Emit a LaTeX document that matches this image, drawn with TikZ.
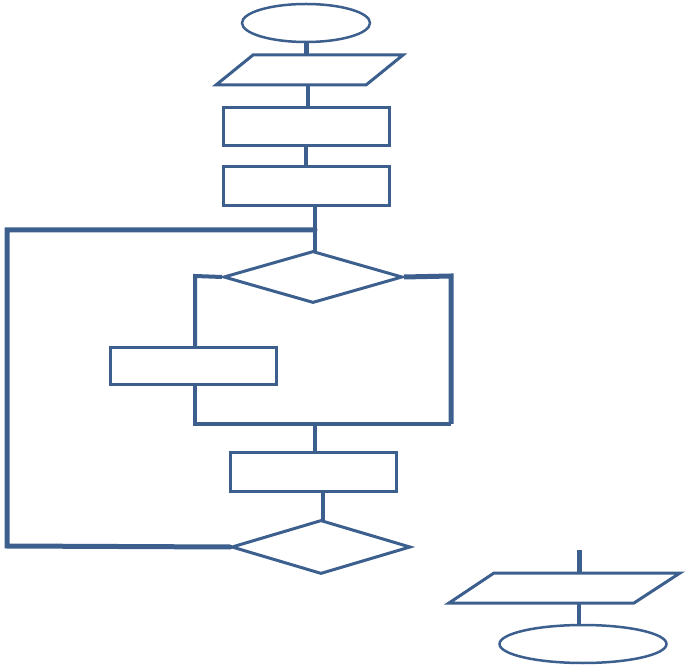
\documentclass[tikz,border=0pt]{standalone}
\usetikzlibrary{shapes.geometric}
\definecolor{fc}{RGB}{60,95,142}
\begin{document}
\begin{tikzpicture}[x=1pt,y=-1pt,
  box/.style={draw=fc,line width=3pt,rectangle,inner sep=0pt,minimum width=166pt},
  oval/.style={draw=fc,line width=2.5pt,ellipse,inner sep=0pt},
  dia/.style={draw=fc,line width=3pt,diamond,inner sep=0pt,minimum width=179pt},
  para/.style={draw=fc,line width=3pt,line join=miter},
  conn/.style={draw=fc,line width=4pt},
  loopline/.style={draw=fc,line width=5pt,line cap=round}]
\useasboundingbox (0,0) rectangle (686,668);
% shapes
\node[oval,minimum width=128pt,minimum height=38pt] (e1) at (306,23) {};
\coordinate (p1a) at (253,55); \coordinate (p1b) at (403,55);
\coordinate (p1c) at (366,85); \coordinate (p1d) at (216,85);
\draw[para] (p1a) -- (p1b) -- (p1c) -- (p1d) -- cycle;
\coordinate (p1t) at (306,55); \coordinate (p1s) at (308,85);
\node[box,minimum height=38pt] (r1) at (306,127) {};
\node[box,minimum height=39pt] (r2) at (306,186.5) {};
\node[dia,minimum height=52pt] (d1) at (313,277) {};
\node[box,minimum height=37pt] (r3) at (193,366.5) {};
\node[box,minimum height=38pt] (r4) at (313,472) {};
\node[dia,minimum height=54pt] (d2) at (321,547) {};
\coordinate (p2a) at (494,573); \coordinate (p2b) at (680,573);
\coordinate (p2c) at (634,603); \coordinate (p2d) at (449,603);
\draw[para] (p2a) -- (p2b) -- (p2c) -- (p2d) -- cycle;
\coordinate (p2t) at (579,573); \coordinate (p2s) at (579,603);
\coordinate (in2) at (579,550);
\node[oval,minimum width=167pt,minimum height=38pt] (e2) at (583,644) {};
% connectors
\draw[conn,line width=5pt] (e1.south) -- (p1t);
\draw[conn] (p1s) -- (p1s |- r1.north);
\draw[conn] (r1.south) -- (r2.north);
\coordinate (j1) at (315,230);
\draw[conn] (315,206) -- (315,251);
\coordinate (lt) at (7,230); \coordinate (lb) at (7,546);
\draw[loopline] (d2.west) -- (lb) -- (lt) -- (j1);
\coordinate (ml) at (195,276); \coordinate (mr) at (451,276);
\coordinate (bl) at (195,424); \coordinate (br) at (451,424);
\draw[conn] (d1.west) -- (ml) -- (ml |- r3.north);
\draw[conn] (ml |- r3.south) -- (bl) -- (br);
\draw[conn,line width=5pt] (d1.east) -- (mr) -- (br);
\draw[conn] (315,424) -- (315,453);
\draw[conn] (323,491) -- (323,520);
\draw[conn,line width=5pt] (in2) -- (p2t);
\draw[conn] (p2s) -- (p2s |- e2.north);
\end{tikzpicture}
\end{document}
